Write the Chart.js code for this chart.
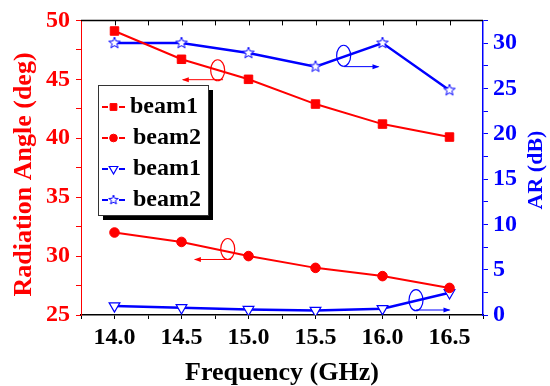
<!DOCTYPE html>
<html>
<head>
<meta charset="utf-8">
<script src="https://cdn.jsdelivr.net/npm/chart.js@4/dist/chart.umd.min.js"></script>
<style>
  html, body { margin: 0; padding: 0; background: #fff; }
</style>
</head>
<body>
<canvas id="chart" width="550" height="386"></canvas>
<script>
// datos
const freq = [14.0, 14.5, 15.0, 15.5, 16.0, 16.5];
const angleBeam1 = [49.1, 46.7, 45.0, 42.9, 41.2, 40.1];
const angleBeam2 = [32.0, 31.2, 30.0, 29.0, 28.3, 27.3];
const arBeam1 = [1.0, 0.8, 0.6, 0.5, 0.7, 2.45];
const arBeam2 = [30.0, 30.0, 28.9, 27.4, 30.0, 24.8];
const legendLabels = ['beam1', 'beam2', 'beam1', 'beam2'];

const RED = '#ff0000';
const BLUE = '#0000ff';
const SERIF = "'Liberation Serif', 'Times New Roman', serif";

// estrella hueca de 5 puntas (Chart.js no la trae)
function makeStar(r, color) {
  const s = Math.ceil(r * 2 + 4);
  const cv = document.createElement('canvas');
  cv.width = s; cv.height = s;
  const g = cv.getContext('2d');
  g.beginPath();
  for (let i = 0; i < 10; i++) {
    const rad = i % 2 === 0 ? r : r * 0.42;
    const a = -Math.PI / 2 + i * Math.PI / 5;
    const px = s / 2 + rad * Math.cos(a), py = s / 2 + rad * Math.sin(a);
    if (i === 0) g.moveTo(px, py); else g.lineTo(px, py);
  }
  g.closePath();
  g.fillStyle = '#fff'; g.fill();
  g.strokeStyle = color; g.lineWidth = 1; g.stroke();
  return cv;
}
const starBig = makeStar(6, BLUE);
const starSmall = makeStar(5, BLUE);

const pts = ys => freq.map((f, i) => ({ x: f, y: ys[i] }));

// anotaciones: elipse + flecha (en coordenadas de datos)
const callouts = [
  { axis: 'y', color: RED, cx: 14.77, cy: 45.77, ay: 44.97, x0: 14.81, x1: 14.51 },
  { axis: 'y1', color: BLUE, cx: 15.71, cy: 28.6, ay: 27.4, x0: 15.71, x1: 15.97 },
  { axis: 'y', color: RED, cx: 14.845, cy: 30.6, ay: 29.71, x0: 14.87, x1: 14.60 },
  { axis: 'y1', color: BLUE, cx: 16.25, cy: 1.64, ay: 0.55, x0: 16.25, x1: 16.50 }
];

function drawMarker(ctx, ds, x, y, scale) {
  ctx.save();
  ctx.fillStyle = ds.pointBackgroundColor;
  ctx.strokeStyle = ds.pointBorderColor;
  ctx.lineWidth = ds.pointBorderWidth;
  let style = ds.pointStyle;
  if (style === starBig) style = starSmall;
  Chart.helpers.drawPoint(ctx, {
    pointStyle: style,
    rotation: ds.pointRotation || 0,
    radius: ds.pointRadius * scale,
    borderWidth: ds.pointBorderWidth
  }, x, y);
  ctx.restore();
}

const extras = {
  id: 'extras',
  afterDraw(chart) {
    const ctx = chart.ctx;
    const a = chart.chartArea;
    const xs = chart.scales.x;

    // marco superior con marcas hacia dentro
    ctx.save();
    ctx.strokeStyle = '#000';
    ctx.lineWidth = 1.5;
    ctx.beginPath();
    ctx.moveTo(a.left, a.top);
    ctx.lineTo(a.right, a.top);
    ctx.stroke();
    ctx.lineWidth = 1;
    xs.ticks.forEach(t => {
      const px = Math.round(xs.getPixelForValue(t.value)) + 0.5;
      if (px <= a.left + 1 || px >= a.right - 1) return;
      ctx.beginPath();
      ctx.moveTo(px, a.top);
      ctx.lineTo(px, a.top + 5);
      ctx.stroke();
    });
    ctx.restore();

    // elipses y flechas
    callouts.forEach(c => {
      const ys = chart.scales[c.axis];
      const ex = xs.getPixelForValue(c.cx), ey = ys.getPixelForValue(c.cy);
      const ay = ys.getPixelForValue(c.ay);
      const p0 = xs.getPixelForValue(c.x0), p1 = xs.getPixelForValue(c.x1);
      ctx.save();
      ctx.strokeStyle = c.color;
      ctx.fillStyle = c.color;
      ctx.lineWidth = 1.2;
      ctx.beginPath();
      ctx.ellipse(ex, ey, 7, 10.5, 0, 0, Math.PI * 2);
      ctx.stroke();
      ctx.lineWidth = 1;
      ctx.beginPath();
      ctx.moveTo(p0, ay);
      ctx.lineTo(p1, ay);
      ctx.stroke();
      const dir = p1 > p0 ? 1 : -1;
      ctx.beginPath();
      ctx.moveTo(p1 + dir * 1, ay);
      ctx.lineTo(p1 - dir * 6, ay - 2.5);
      ctx.lineTo(p1 - dir * 6, ay + 2.5);
      ctx.closePath();
      ctx.fill();
      ctx.restore();
    });

    // títulos de los ejes verticales
    ctx.save();
    ctx.font = 'bold 26px ' + SERIF;
    ctx.textAlign = 'center';
    ctx.textBaseline = 'middle';
    ctx.fillStyle = RED;
    ctx.translate(24, 174.5);
    ctx.rotate(-Math.PI / 2);
    ctx.fillText('Radiation Angle (deg)', 0, 0);
    ctx.restore();
    ctx.save();
    ctx.font = 'bold 22px ' + SERIF;
    ctx.textAlign = 'center';
    ctx.textBaseline = 'middle';
    ctx.fillStyle = BLUE;
    ctx.translate(536, 170);
    ctx.rotate(-Math.PI / 2);
    ctx.fillText('AR (dB)', 0, 0);
    ctx.restore();

    // leyenda con sombra
    const bx = 98, by = 85, bw = 110, bh = 130;
    ctx.save();
    ctx.fillStyle = '#000';
    ctx.fillRect(bx + 5, by + 5, bw, bh);
    ctx.fillStyle = '#fff';
    ctx.fillRect(bx, by, bw, bh);
    ctx.strokeStyle = '#333';
    ctx.lineWidth = 1;
    ctx.strokeRect(bx + 0.5, by + 0.5, bw, bh);
    ctx.font = 'bold 24px ' + SERIF;
    ctx.textBaseline = 'middle';
    ctx.fillStyle = '#000';
    chart.data.datasets.forEach((ds, i) => {
      const y = by + 22 + i * 31;
      const mx = 113.5;
      ctx.strokeStyle = ds.borderColor;
      ctx.lineWidth = 2;
      ctx.beginPath();
      ctx.moveTo(102, y); ctx.lineTo(108, y);
      ctx.moveTo(119, y); ctx.lineTo(125, y);
      ctx.stroke();
      drawMarker(ctx, ds, mx, y, 0.8);
      ctx.fillStyle = '#000';
      ctx.fillText(legendLabels[i], i === 0 ? 130 : 133, y);
    });
    ctx.restore();
  }
};

const tickFont = { family: SERIF, size: 24, weight: 'bold' };
const near = (v, step) => Math.abs(v / step - Math.round(v / step)) < 1e-6;

new Chart(document.getElementById('chart'), {
  type: 'line',
  data: {
    datasets: [
      {
        label: legendLabels[0], data: pts(angleBeam1), yAxisID: 'y',
        borderColor: RED, borderWidth: 2,
        pointStyle: 'rect', pointRadius: 6,
        pointBackgroundColor: RED, pointBorderColor: RED, pointBorderWidth: 1
      },
      {
        label: legendLabels[1], data: pts(angleBeam2), yAxisID: 'y',
        borderColor: RED, borderWidth: 2,
        pointStyle: 'circle', pointRadius: 4.8,
        pointBackgroundColor: RED, pointBorderColor: RED, pointBorderWidth: 1
      },
      {
        label: legendLabels[2], data: pts(arBeam1), yAxisID: 'y1',
        borderColor: BLUE, borderWidth: 2.5,
        pointStyle: 'triangle', pointRotation: 180, pointRadius: 6.2,
        pointBackgroundColor: '#fff', pointBorderColor: BLUE, pointBorderWidth: 1.2
      },
      {
        label: legendLabels[3], data: pts(arBeam2), yAxisID: 'y1',
        borderColor: BLUE, borderWidth: 2.5,
        pointStyle: starBig, pointRadius: 6,
        pointBackgroundColor: '#fff', pointBorderColor: BLUE, pointBorderWidth: 1
      }
    ]
  },
  options: {
    responsive: false,
    animation: false,
    layout: { padding: { top: 18, left: 0, right: 0, bottom: 0 } },
    plugins: { legend: { display: false }, tooltip: { enabled: false } },
    elements: { line: { tension: 0 } },
    scales: {
      x: {
        type: 'linear', position: 'bottom', min: 13.75, max: 16.75,
        afterFit: s => { s.height = 71; },
        ticks: {
          stepSize: 0.25, color: '#000', font: tickFont, padding: 4,
          maxRotation: 0, autoSkip: false,
          callback: v => near(v, 0.5) ? v.toFixed(1) : ''
        },
        grid: { drawOnChartArea: false, tickLength: 4, color: '#000' },
        border: { color: '#000', width: 1.5 },
        title: {
          display: true, text: 'Frequency (GHz)', color: '#000',
          font: { family: SERIF, size: 26, weight: 'bold', lineHeight: 1 },
          padding: { top: 0, bottom: 0 }
        }
      },
      y: {
        type: 'linear', position: 'left', min: 25, max: 50,
        afterFit: s => { s.width = 81; },
        ticks: {
          stepSize: 2.5, color: RED, font: tickFont, padding: 6, autoSkip: false,
          callback: v => near(v, 5) ? String(v) : ''
        },
        grid: { drawOnChartArea: false, tickLength: 5, color: RED },
        border: { color: RED, width: 1 }
      },
      y1: {
        type: 'linear', position: 'right', min: 0, max: 32.5,
        afterFit: s => { s.width = 67; },
        ticks: {
          stepSize: 2.5, color: BLUE, font: tickFont, padding: 5, autoSkip: false,
          callback: v => near(v, 5) ? String(v) : ''
        },
        grid: { drawOnChartArea: false, tickLength: 5, color: BLUE },
        border: { color: BLUE, width: 1.5 }
      }
    }
  },
  plugins: [extras]
});
</script>
</body>
</html>
